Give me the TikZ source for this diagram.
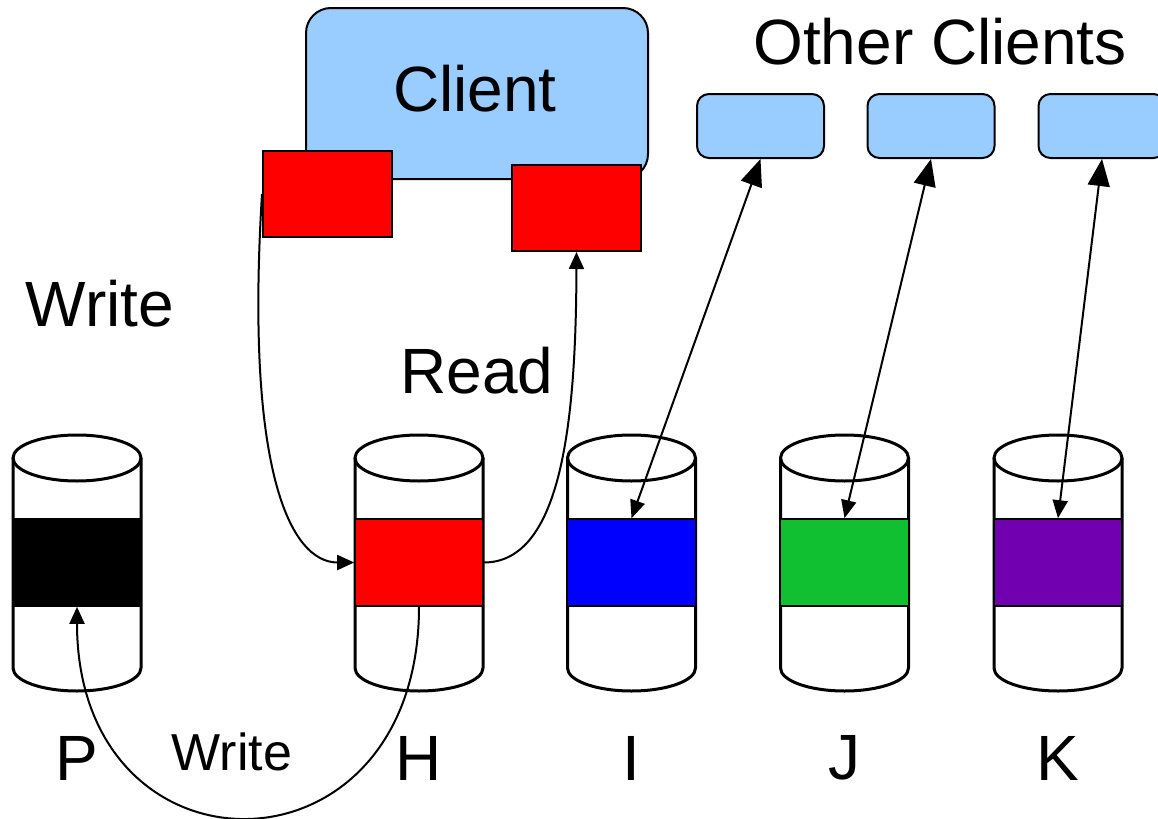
\documentclass[tikz,border=0pt]{standalone}
\usepackage{fontspec}
\setmainfont{Liberation Sans}
\usetikzlibrary{arrows.meta}
\definecolor{clientblue}{RGB}{153,204,255}
\definecolor{blockred}{RGB}{255,0,0}
\definecolor{blockblue}{RGB}{0,0,255}
\definecolor{blockgreen}{RGB}{16,192,48}
\definecolor{blockpurple}{RGB}{112,0,176}
\tikzset{
  big/.style={font=\fontsize{32}{36}\selectfont, inner sep=0pt},
  small/.style={font=\fontsize{26}{30}\selectfont, inner sep=0pt},
  band/.style={draw=black, line width=0.8pt, inner sep=0pt, minimum width=64pt, minimum height=43.5pt},
  buffer/.style={draw=black, fill=blockred, line width=1pt, inner sep=0pt, minimum width=64.5pt, minimum height=43pt},
  peer/.style={draw=black, fill=clientblue, line width=1pt, rounded corners=6pt, inner sep=0pt, minimum width=63.5pt, minimum height=32pt},
  link/.style={line width=1pt, -{Triangle[length=8.5pt,width=7.5pt]}},
  duplex/.style={line width=1pt, {Triangle[length=9pt,width=7.5pt]}-{Triangle[length=13.5pt,width=11pt]}},
}
% disk cylinder centred at x = #1
\newcommand{\disk}[1]{%
  \filldraw[fill=white, line width=1.5pt]
    (#1-64,458) -- (#1-64,668) arc[start angle=180, end angle=0, x radius=64, y radius=23]
    -- (#1+64,458);
  \draw[line width=1.5pt] (#1,458) ellipse[x radius=64, y radius=23];
}
\begin{document}
\begin{tikzpicture}[x=0.5pt, y=-0.5pt]
\useasboundingbox (0,0) rectangle (1158,819);

% storage nodes
\disk{77}
\disk{419}
\disk{631.5}
\disk{844.5}
\disk{1058}
\node[band, fill=black]       (Pband) at (77,562.5) {};
\node[band, fill=blockred]    (Hband) at (419,562.5) {};
\node[band, fill=blockblue]   (Iband) at (631.5,562.5) {};
\node[band, fill=blockgreen]  (Jband) at (844.5,562.5) {};
\node[band, fill=blockpurple] (Kband) at (1058,562.5) {};

% node names
\node[big] (Plabel) at (77,758) {P};
\node[big] (Hlabel) at (419,758) {H};
\node[big] (Ilabel) at (631.5,758) {I};
\node[big] (Jlabel) at (844.5,758) {J};
\node[big] (Klabel) at (1058,758) {K};

% client with its buffers
\node[draw=black, fill=clientblue, line width=1pt, rounded corners=12.5pt,
      minimum width=171pt, minimum height=85.5pt, inner sep=0pt] (client) at (477,93.5) {};
\node[big] (clientname) at (475,89) {Client};
\node[buffer] (lbuf) at (327.5,194) {};
\node[buffer] (rbuf) at (576.5,208) {};

% other clients
\node[big] (others) at (940,42) {Other Clients};
\node[peer] (c1) at (760.5,126) {};
\node[peer] (c2) at (931,126) {};
\node[peer] (c3) at (1102,126) {};

% labels
\node[big] (writetop) at (100,304) {Write};
\node[big] (read) at (477,371) {Read};
\node[small] (writebottom) at (232,752) {Write};

% data flow
\draw[link] (lbuf.west) .. controls (245,470) and (290,562.5) .. (Hband.west);
\draw[link] (Hband.east) .. controls (562,562.5) and (576,420) .. (rbuf.south);
\draw[link] (Hband.south) .. controls (419,887) and (77,887) .. (Pband.south);
\draw[duplex] (Iband.north) -- (c1.south);
\draw[duplex] (Jband.north) -- (c2.south);
\draw[duplex] (Kband.north) -- (c3.south);
\end{tikzpicture}
\end{document}
